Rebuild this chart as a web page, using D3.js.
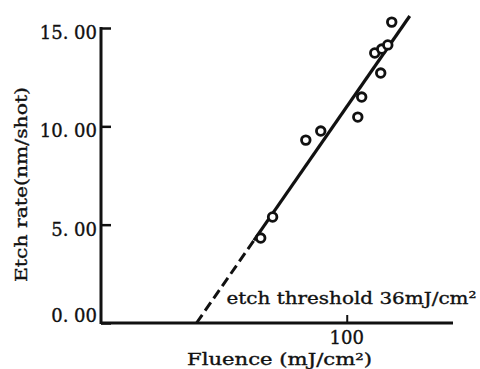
<!DOCTYPE html>
<html>
<head>
<meta charset="utf-8">
<script src="https://cdn.jsdelivr.net/npm/d3@7"></script>
<style>
    body { margin: 0; background: #fff; }
    text { font-family: "DejaVu Serif", "Liberation Serif", serif; fill: #111; stroke: #111; stroke-width: 0.35px; }
</style>
</head>
<body>
<div id="chart"></div>
<script>
// measured points: fluence (mJ/cm2) and etch rate (nm/shot)
var fluence = [55.7, 60.4, 75.7, 83.8, 107.8, 110.7, 121, 126.9, 132.2, 126, 135.8];
var etchRate = [4.32, 5.39, 9.30, 9.76, 10.47, 11.49, 13.73, 13.93, 14.14, 12.71, 15.30];

// fitted line: dashed from the threshold, then solid
var fitDashed = [[36, 0], [53.2, 4.2]];
var fitSolid = [[53.2, 4.2], [153.5, 15.61]];

var yTicks = [0, 5, 10, 15];
var yTickLabels = ['0. 00', '5. 00', '10. 00', '15. 00'];
var xTicks = [100];
var xTickLabels = ['100'];

var xDomain = [18.8, 206];
var yDomain = [0, 15];

var thresholdText = 'etch threshold 36mJ/cm\u00b2';
var xTitle = 'Fluence (mJ/cm\u00b2)';
var yTitle = 'Etch rate(nm/shot)';

var scatterChart = function () {
    let margin = { top: 28, right: 27, bottom: 46, left: 101 };
    let width = 480 - margin.left - margin.right;
    let height = 369 - margin.top - margin.bottom;

    function chart(selection) {
        const svg = selection.append('svg')
            .attr('width', width + margin.left + margin.right)
            .attr('height', height + margin.top + margin.bottom);

        const g = svg.append('g')
            .attr('transform', 'translate(' + margin.left + ',' + margin.top + ')');

        const x = d3.scaleLog().domain(xDomain).range([0, width]);
        const y = d3.scaleLinear().domain(yDomain).range([height, 0]);

        // y axis, ticks point inward
        const yAxis = d3.axisRight(y)
            .tickValues(yTicks)
            .tickSize(10)
            .tickFormat(function () { return ''; });
        g.append('g')
            .attr('class', 'y axis')
            .call(yAxis)
            .call(function (a) {
                a.select('.domain').remove();
                a.selectAll('.tick line').attr('stroke', '#111').attr('stroke-width', 2.5);
            });
        g.append('line')
            .attr('x1', 0).attr('x2', 0)
            .attr('y1', y(15) - 1).attr('y2', height + 1)
            .attr('stroke', '#111').attr('stroke-width', 3);

        g.selectAll('.ylab')
            .data(yTicks)
            .enter().append('text')
            .attr('class', 'ylab')
            .attr('x', -4)
            .attr('y', function (d) { return y(d); })
            .attr('dy', function (d) { return d === 0 ? -6 : 6; })
            .attr('dominant-baseline', 'middle')
            .attr('text-anchor', 'end')
            .style('font-size', '18px')
            .text(function (d, i) { return yTickLabels[i]; });

        // x axis
        g.append('line')
            .attr('x1', 0).attr('x2', width)
            .attr('y1', height).attr('y2', height)
            .attr('stroke', '#111').attr('stroke-width', 3);

        const xAxis = d3.axisTop(x)
            .tickValues(xTicks)
            .tickSize(8)
            .tickFormat(function () { return ''; });
        g.append('g')
            .attr('class', 'x axis')
            .attr('transform', 'translate(0,' + height + ')')
            .call(xAxis)
            .call(function (a) {
                a.select('.domain').remove();
                a.selectAll('.tick line').attr('stroke', '#111').attr('stroke-width', 2);
            });

        g.selectAll('.xlab')
            .data(xTicks)
            .enter().append('text')
            .attr('class', 'xlab')
            .attr('x', function (d) { return x(d); })
            .attr('y', height + 21)
            .attr('text-anchor', 'middle')
            .style('font-size', '18px')
            .text(function (d, i) { return xTickLabels[i]; });

        // fitted line
        const line = d3.line()
            .x(function (d) { return x(d[0]); })
            .y(function (d) { return y(d[1]); });

        g.append('path')
            .datum(fitDashed)
            .attr('d', line)
            .attr('fill', 'none')
            .attr('stroke', '#111')
            .attr('stroke-width', 3)
            .attr('stroke-dasharray', '10,5');

        g.append('path')
            .datum(fitSolid)
            .attr('d', line)
            .attr('fill', 'none')
            .attr('stroke', '#111')
            .attr('stroke-width', 3.2);

        // data points
        g.selectAll('.pt')
            .data(fluence)
            .enter().append('circle')
            .attr('class', 'pt')
            .attr('cx', function (d) { return x(d); })
            .attr('cy', function (d, i) { return y(etchRate[i]); })
            .attr('r', 4.3)
            .attr('fill', '#fff')
            .attr('stroke', '#111')
            .attr('stroke-width', 2.8);

        // annotation
        g.append('text')
            .attr('x', x(36) + 30)
            .attr('y', height - 19)
            .attr('textLength', 250)
            .attr('lengthAdjust', 'spacingAndGlyphs')
            .style('font-size', '17px')
            .text(thresholdText);

        // titles
        svg.append('text')
            .attr('x', 187)
            .attr('y', 365)
            .attr('textLength', 185)
            .attr('lengthAdjust', 'spacingAndGlyphs')
            .style('font-size', '16px')
            .text(xTitle);

        svg.append('text')
            .attr('transform', 'translate(27,282) rotate(-90)')
            .attr('textLength', 195)
            .attr('lengthAdjust', 'spacingAndGlyphs')
            .style('font-size', '17px')
            .text(yTitle);
    }

    return chart;
};

d3.select('#chart').call(scatterChart());
</script>
</body>
</html>
